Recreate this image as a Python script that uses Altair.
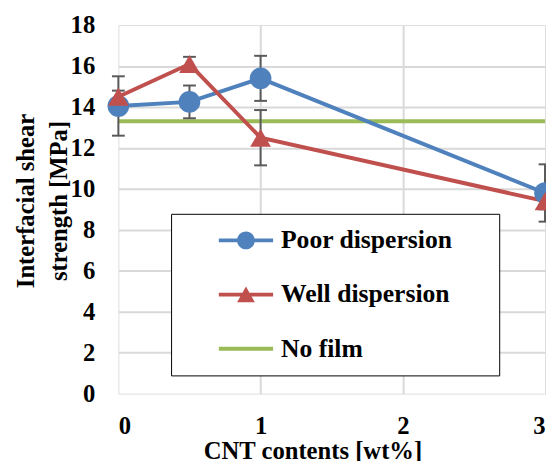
import altair as alt
import pandas as pd

# ---- data ----
cnt = [0, 0.5, 1, 3]
poor = [14.05, 14.25, 15.4, 9.8]
poor_err = [1.45, 0.8, 1.1, 1.4]
well = [14.5, 16.1, 12.5, 9.4]
well_err = [0.3, 0.35, 1.35, 0.4]
nofilm_x = [0, 3]
nofilm = [13.3, 13.3]

series = ["Poor dispersion", "Well dispersion", "No film"]
colors = ["#4F81BD", "#C0504D", "#9BBB59"]
x_ticks = [0, 1, 2, 3]
y_ticks = [0, 2, 4, 6, 8, 10, 12, 14, 16, 18]

FONT = "Times New Roman, Liberation Serif, DejaVu Serif, serif"

rows = []
for xv, yv, e in zip(cnt, poor, poor_err):
    rows.append(dict(series=series[0], x=xv, y=yv, lo=yv - e, hi=yv + e))
for xv, yv, e in zip(cnt, well, well_err):
    rows.append(dict(series=series[1], x=xv, y=yv, lo=yv - e, hi=yv + e))
for xv, yv in zip(nofilm_x, nofilm):
    rows.append(dict(series=series[2], x=xv, y=yv, lo=yv, hi=yv))
df = pd.DataFrame(rows)

# legend symbols: line + marker (unit = 9 px)
line_part = "M-3.06,-0.22L3.06,-0.22L3.06,0.22L-3.06,0.22Z"
leg_shapes = [
    line_part + " M1,0A1,1 0 1,1 -1,0A1,1 0 1,1 1,0Z",
    line_part + " M0,-0.9L1,0.85L-1,0.85Z",
    line_part + " M26.9,0Z",
]

xscale = alt.Scale(domain=[0, 3], nice=False)
yscale = alt.Scale(domain=[0, 18], nice=False)

grid_hide_y = "datum.value === 0 || datum.value === 18"
grid_hide_x = "datum.value === 0 || datum.value === 3"

X = alt.X(
    "x:Q",
    scale=xscale,
    axis=alt.Axis(
        values=x_ticks, format="d",
        title="CNT contents [wt%]",
        titleFont=FONT, titleFontSize=25, titleFontWeight="bold", titleColor="black",
        titleX=197, titleY=66, titleBaseline="alphabetic", titleAnchor="start", titleAlign="center",
        labelFont=FONT, labelFontSize=25, labelFontWeight="bold", labelColor="black",
        labelBaseline="alphabetic", labelPadding=40,
        ticks=False, domain=False,
        grid=True, gridWidth=2,
        gridColor=alt.condition(grid_hide_x, alt.value("rgba(0,0,0,0)"), alt.value("#d9d9d9")),
    ),
)
Y = alt.Y(
    "y:Q",
    scale=yscale,
    axis=alt.Axis(
        values=y_ticks, format="d",
        title=["Interfacial shear", "strength [MPa]"],
        titleFont=FONT, titleFontSize=25, titleFontWeight="bold", titleColor="black",
        titleAngle=270, titleX=-86, titleY=178, titleBaseline="alphabetic", titleAlign="center",
        titleLineHeight=33,
        labelFont=FONT, labelFontSize=25, labelFontWeight="bold", labelColor="black",
        labelPadding=24, ticks=False, domain=False,
        grid=True, gridWidth=2,
        gridColor=alt.condition(grid_hide_y, alt.value("rgba(0,0,0,0)"), alt.value("#d9d9d9")),
    ),
)

base = alt.Chart(df)
errdf = base.transform_filter(alt.FieldOneOfPredicate(field="series", oneOf=series[:2]))

nofilm_line = base.mark_line(strokeWidth=4, color=colors[2]).encode(x=X, y=Y).transform_filter(
    alt.datum.series == series[2])

err_rule = errdf.mark_rule(color="#595959", strokeWidth=2).encode(
    x=alt.X("x:Q", scale=xscale), y=alt.Y("lo:Q", scale=yscale), y2="hi:Q")
cap_lo = errdf.mark_tick(orient="horizontal", size=13, thickness=2, color="#595959", opacity=1).encode(
    x=alt.X("x:Q", scale=xscale), y=alt.Y("lo:Q", scale=yscale))
cap_hi = errdf.mark_tick(orient="horizontal", size=13, thickness=2, color="#595959", opacity=1).encode(
    x=alt.X("x:Q", scale=xscale), y=alt.Y("hi:Q", scale=yscale))

poor_line = base.mark_line(strokeWidth=4, color=colors[0]).encode(x=X, y=Y).transform_filter(
    alt.datum.series == series[0])
well_line = base.mark_line(strokeWidth=4, color=colors[1]).encode(x=X, y=Y).transform_filter(
    alt.datum.series == series[1])
poor_pts = base.mark_point(filled=True, opacity=1, size=484, shape="circle", color=colors[0]).encode(
    x=X, y=Y).transform_filter(alt.datum.series == series[0])
well_pts = base.mark_point(filled=True, opacity=1, size=441, shape="triangle-up", color=colors[1]).encode(
    x=X, y=Y).transform_filter(alt.datum.series == series[1])

legend_layer = base.mark_point(filled=True, opacity=1).encode(
    x=X, y=Y,
    color=alt.Color("series:N", scale=alt.Scale(domain=series, range=colors), title=None,
                    legend=alt.Legend(
                        orient="none", legendX=53.5, legendY=191.5, title=None,
                        padding=14, strokeColor="black", fillColor="white",
                        labelFont=FONT, labelFontSize=26, labelFontWeight="bold", labelColor="black",
                        symbolSize=324, symbolStrokeWidth=0, symbolOffset=49, labelOffset=22.5,
                        rowPadding=29, labelLimit=400,
                    )),
    shape=alt.Shape("series:N", scale=alt.Scale(domain=series, range=leg_shapes), title=None),
).transform_filter("false")

chart = alt.layer(
    nofilm_line, err_rule, cap_lo, cap_hi, poor_line, well_line, poor_pts, well_pts, legend_layer
).properties(
    width=433, height=374,
    autosize=alt.AutoSizeParams(type="none"),
    padding={"left": 112, "top": 14, "right": 1, "bottom": 65},
).configure_view(
    stroke="black", strokeWidth=3
).configure_legend(
    strokeWidth=3
).configure(background="white")

chart.save("out.html", embed_options={"renderer": "svg", "actions": False})
